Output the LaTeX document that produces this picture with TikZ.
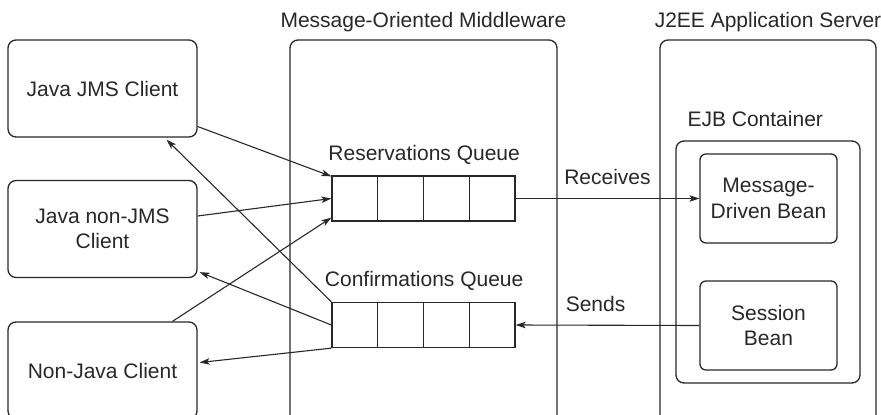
\documentclass[tikz,border=0pt]{standalone}
\usepackage{fontspec}
\setmainfont{Liberation Sans}
\usetikzlibrary{arrows.meta, positioning, calc}
\definecolor{tDark}{RGB}{40, 40, 40}

\begin{document}
\begin{tikzpicture}[
    x=1pt, y=-1pt,
    font=\fontsize{21}{25.5}\selectfont,
    >={Stealth[length=10pt, width=6.5pt, inset=2.5pt]},
    box/.style={
        draw=tDark,
        text=tDark,
        line width=1.3pt,
        rounded corners=#1,
        align=center,
        inner sep=0pt
    },
    box/.default=8pt,
    client/.style={box, minimum width=189pt, minimum height=97pt},
    bean/.style={box=6pt, minimum width=137pt, minimum height=89pt},
    cell/.style={draw=tDark, line width=1.3pt, minimum width=45.75pt, minimum height=45pt, inner sep=0pt},
    caption/.style={text=tDark, inner sep=0pt},
    arrow/.style={->, line width=1.1pt, color=tDark}
]

\clip (0,0) rectangle (881,415);

% Clients
\node[client] (jms) at (102.5, 88.5) {Java JMS Client};
\node[client] (nonjms) at (102.5, 229) {Java non-JMS\\Client};
\node[client] (nonjava) at (102.5, 370.5) {Non-Java Client};

% Middleware
\node[box, minimum width=267pt, minimum height=390pt] (mom) at (423.5, 235) {};
\node[caption, above=7pt of mom.north] (momtitle) {Message-Oriented Middleware};

\foreach \i in {1,...,4} {
    \node[cell] (res\i) at ({332 + 45.75*(\i - 0.5)}, 198.5) {};
    \node[cell] (conf\i) at ({332 + 45.75*(\i - 0.5)}, 325) {};
}
\node[caption, above=11pt of res2.north east] (restitle) {Reservations Queue};
\node[caption, above=11pt of conf2.north east] (conftitle) {Confirmations Queue};

% Application server
\node[box, minimum width=216pt, minimum height=390pt] (j2ee) at (768, 235) {};
\node[caption, above=7pt of j2ee.north] (j2eetitle) {J2EE Application Server};
\node[box, minimum width=184pt, minimum height=242pt] (ejb) at (768, 262) {};
\node[caption, above right=13pt and 12pt of ejb.north west] (ejbtitle) {EJB Container};
\node[bean] (mdb) at (768.5, 198.5) {Message-\\Driven Bean};
\node[bean] (session) at (768.5, 325.5) {Session\\Bean};

% Clients to queues
\draw[arrow] ([yshift=-38pt]jms.east) -- ([yshift=-1pt]res1.north west);
\draw[arrow] ([yshift=13pt]nonjms.east) -- (res1.west);
\draw[arrow] ([xshift=70pt]nonjava.north) -- ([yshift=4pt]res1.south west);
\draw[arrow] (conf1.north west) -- ([xshift=64pt, yshift=-2pt]jms.south);
\draw[arrow] (conf1.west) -- ([xshift=2pt, yshift=6pt]nonjms.south east);
\draw[arrow] (conf1.south west) -- ([xshift=2pt, yshift=8pt]nonjava.east);

% Queues to beans
\draw[arrow] (res4.east) -- node[caption, midway, above=13pt] (recv) {Receives} (mdb.west);
\draw[arrow] (session.west) -- node[caption, pos=0.73, anchor=south west, yshift=13pt] (sends) {Sends} (conf4.east);

\end{tikzpicture}
\end{document}
